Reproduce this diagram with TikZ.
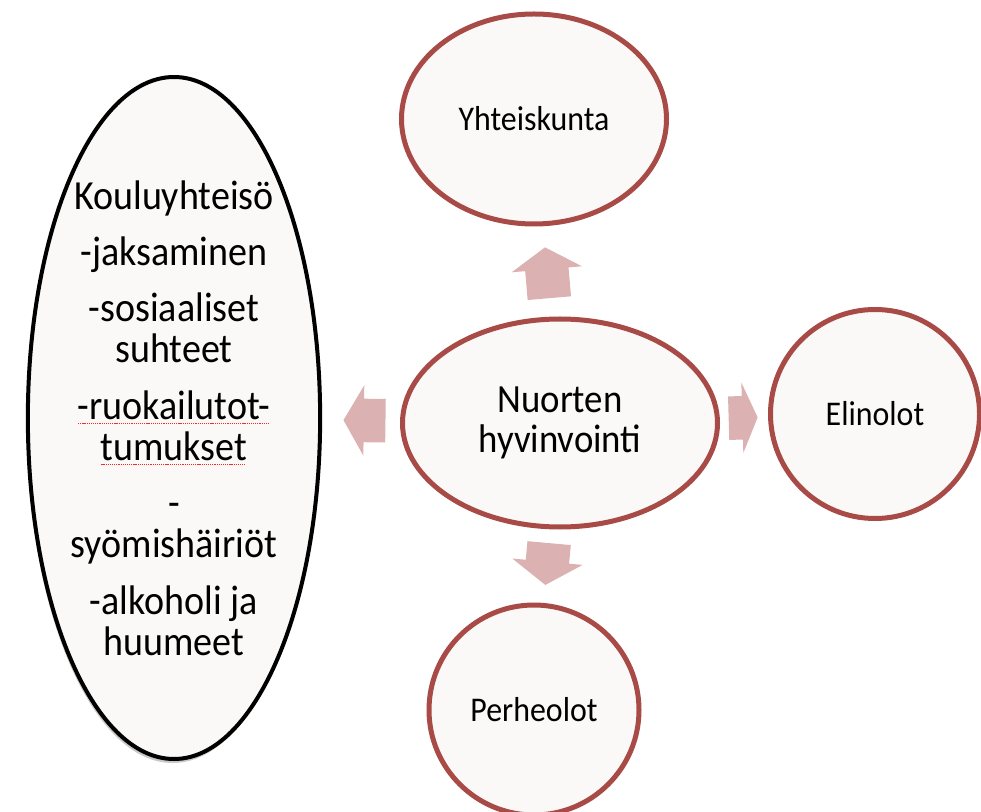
\documentclass[tikz,border=0pt]{standalone}
\usepackage{fontspec}
\setmainfont{Carlito}[FakeStretch=0.92]
\usepackage{xcolor}
\usepackage{tikz}
\usetikzlibrary{shapes.geometric,shapes.arrows,shadows}

\definecolor{ringred}{RGB}{168,74,70}
\definecolor{arrowpink}{RGB}{220,177,177}
\definecolor{paper}{RGB}{250,249,248}

% red spell-check dots under a word
\newcommand\spellwave[1]{\setbox0\hbox{#1}%
  \rlap{\raisebox{-3.5pt}{\color{red!85}\hbox to \wd0{\leaders\hbox to 1.6pt{\hss\rule{0.9pt}{0.6pt}\hss}\hfill}}}\box0}

\begin{document}
\begin{tikzpicture}[
  x=0.75pt, y=-0.75pt,
  ring/.style={ellipse, draw=ringred, line width=3.75pt, fill=paper, inner sep=0pt, align=center},
  schoolring/.style={ellipse, draw=black, line width=3pt, fill=paper, inner sep=0pt, align=center,
    drop shadow={opacity=0.3, fill=black!70, shadow xshift=-1pt, shadow yshift=-3pt}},
  blockarr/.style={single arrow, fill=arrowpink, inner sep=0pt, single arrow head extend=10.1pt,
    sloped, allow upside down, anchor=tip}
]
  \useasboundingbox (0,0) rectangle (981,812);
  \node[ring, minimum width=236.25pt, minimum height=156pt, font=\fontsize{30}{30}\selectfont] (nuoret) at (560,423) {Nuorten\\hyvinvointi};
  \node[ring, minimum width=198.75pt, minimum height=157.5pt, font=\fontsize{26}{30}\selectfont] (yhteis) at (534,119) {Yhteiskunta};
  \node[ring, minimum width=156.75pt, minimum height=156.75pt, font=\fontsize{26}{30}\selectfont] (elin) at (875,414) {Elinolot};
  \node[ring, minimum width=157.5pt, minimum height=157.5pt, font=\fontsize{26}{30}\selectfont] (perhe) at (534,710) {Perheolot};
  \node[schoolring, minimum width=216pt, minimum height=511.5pt, font=\fontsize{31}{30.75}\selectfont] (koulu) at (174,418)
    {Kouluyhteisö\\[11.6pt]
     -jaksaminen\\[11.6pt]
     -sosiaaliset\\suhteet\\[11.6pt]
     \spellwave{-ruokailutot-}\\\spellwave{tumukset}\\[11.6pt]
     -\\syömishäiriöt\\[11.6pt]
     -alkoholi ja\\huumeet};
  % target / arrow length / tip angle / where the tip sits
  \foreach \b/\len/\ang/\p in {yhteis/38.25pt/116/0.77, elin/21.75pt/133/0.79, perhe/31.5pt/113/0.76, koulu/31.5pt/120/0.73}
    \path (nuoret) -- node[blockarr, minimum height=\len, single arrow tip angle=\ang, pos=\p] {\rule{0pt}{32.25pt}} (\b);
\end{tikzpicture}
\end{document}
